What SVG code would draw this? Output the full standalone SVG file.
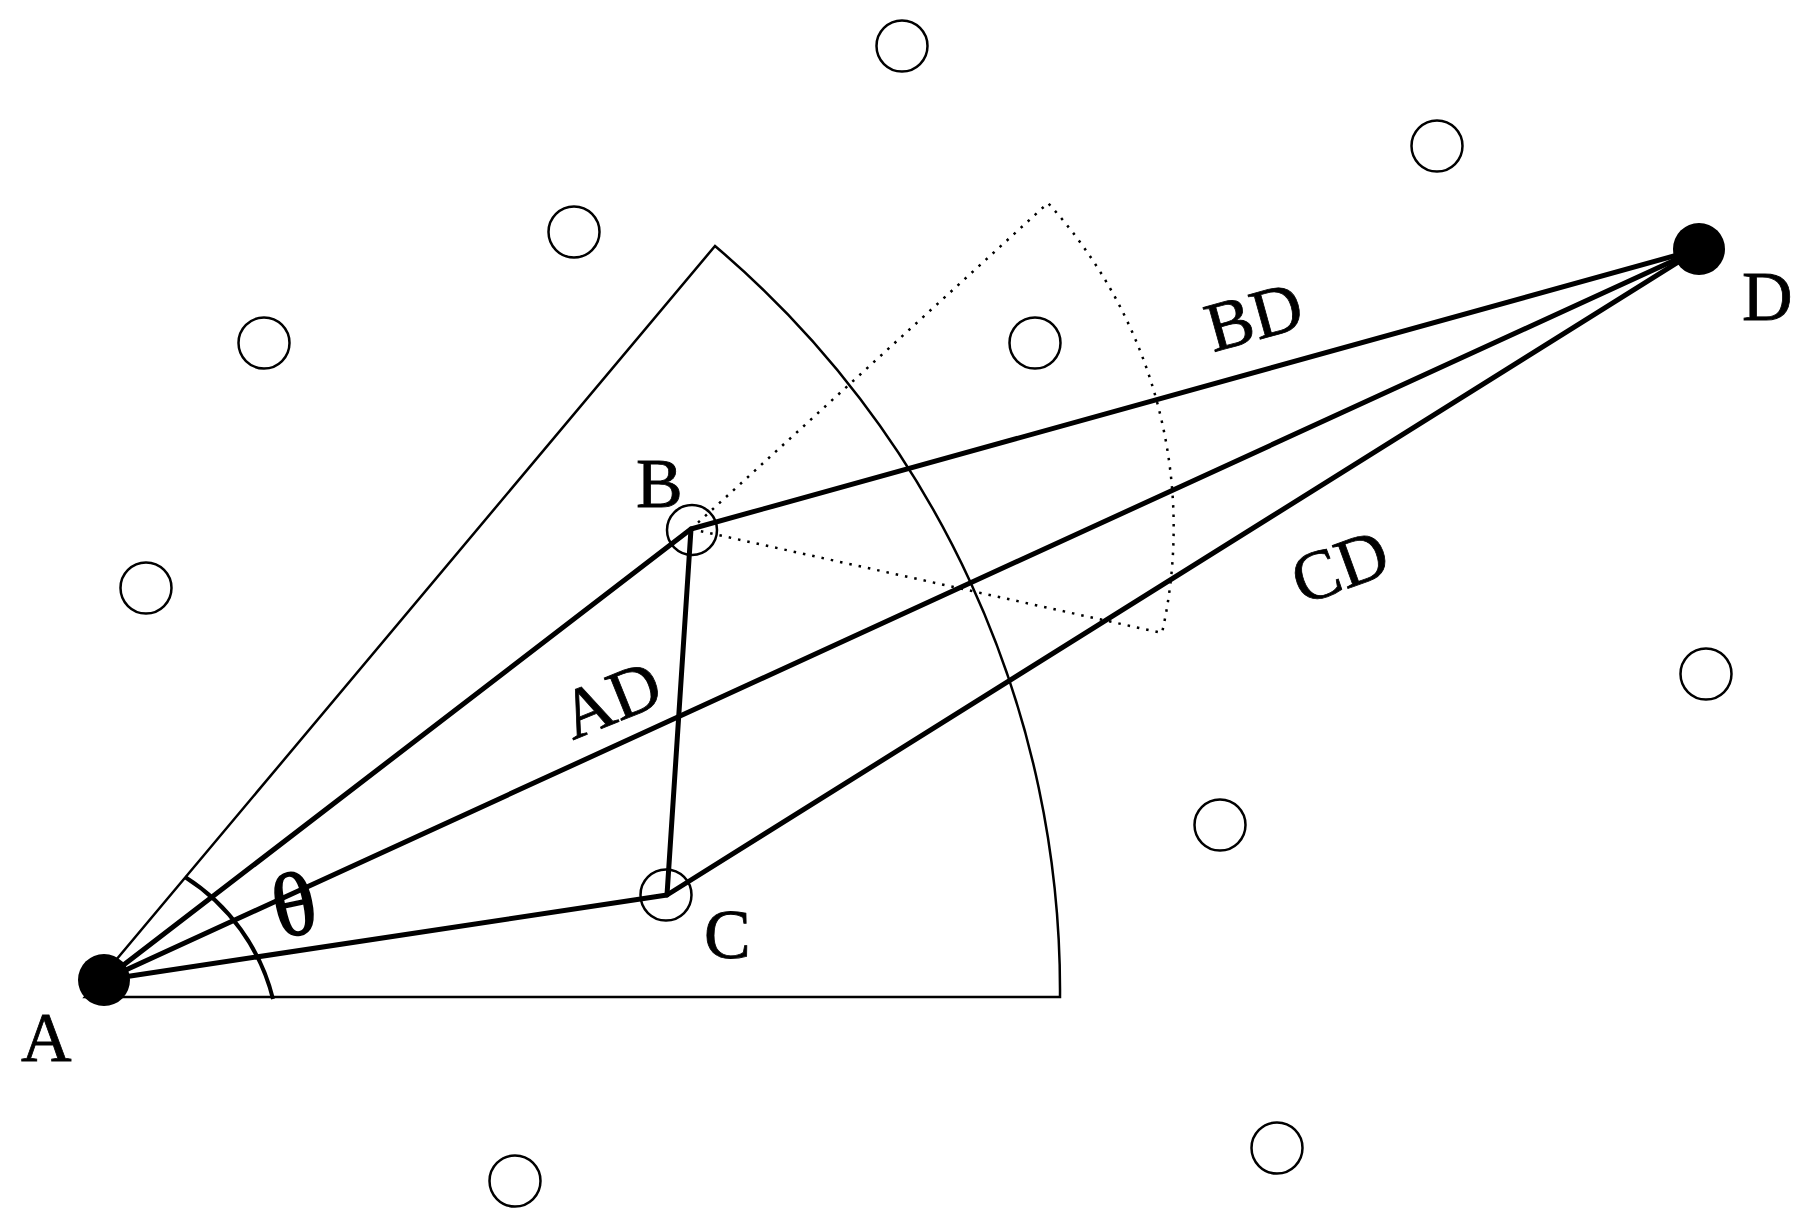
<svg xmlns="http://www.w3.org/2000/svg" width="1806" height="1228" viewBox="0 0 1806 1228">
<style>
.bg{fill:#fff}
.thin{fill:none;stroke:#000;stroke-width:2.5}
.dot{fill:none;stroke:#000;stroke-width:2.5;stroke-dasharray:2.5 7}
.edge{fill:none;stroke:#000;stroke-width:5;stroke-linejoin:round;stroke-linecap:round}
.node{fill:none;stroke:#000;stroke-width:2.5}
.big{fill:#000}
.lbl{font-family:"Liberation Serif","Times New Roman",serif;font-size:70px;fill:#000;stroke:#000;stroke-width:0.8}
</style>
<rect class="bg" x="0" y="0" width="1806" height="1228"/>
<g id="sectors">
<path class="thin" d="M85,997 L1060,997 A976,976 0 0,0 715,246 Z"/>
<path class="dot" d="M691,529 L1048,203 A482,482 0 0,1 1162,633 Z"/>
<path d="M185,877 A202,202 0 0,1 273,999" fill="none" stroke="#000" stroke-width="4"/>
</g>
<g id="connectors">
<path class="edge" d="M104,980 L691,529 L1699,249"/>
<path class="edge" d="M691,529 L667,895"/>
<path class="edge" d="M104,980 L667,895 L1699,249"/>
<path class="edge" d="M104,980 L1699,249"/>
</g>
<g id="node-A"><circle class="big" cx="104" cy="980" r="26"/><text class="lbl" x="21" y="1061">A</text></g>
<g id="node-B"><circle class="node" cx="692" cy="530" r="25"/><text class="lbl" x="636" y="507">B</text></g>
<g id="node-C"><circle class="node" cx="666" cy="895" r="25.5"/><text class="lbl" x="704" y="958">C</text></g>
<g id="node-D"><circle class="big" cx="1699" cy="249" r="26"/><text class="lbl" x="1742" y="320">D</text></g>
<g id="others">
<circle class="node" cx="902" cy="46" r="25.5"/>
<circle class="node" cx="1437" cy="146" r="25.5"/>
<circle class="node" cx="574" cy="232" r="25.5"/>
<circle class="node" cx="264" cy="343" r="25.5"/>
<circle class="node" cx="1035" cy="343" r="25.5"/>
<circle class="node" cx="146" cy="588" r="25.5"/>
<circle class="node" cx="1706" cy="674" r="25.5"/>
<circle class="node" cx="1220" cy="825" r="25.5"/>
<circle class="node" cx="1277" cy="1148" r="25.5"/>
<circle class="node" cx="515" cy="1181" r="25.5"/>
</g>
<g id="labels">
<text class="lbl" text-anchor="middle" transform="translate(1254,317) rotate(-15.5)" x="0" y="23">BD</text>
<text class="lbl" text-anchor="middle" transform="translate(1340,567) rotate(-20)" x="0" y="23">CD</text>
<text class="lbl" text-anchor="middle" transform="translate(611,700) rotate(-22)" x="0" y="23">AD</text>
<text class="lbl" text-anchor="middle" style="font-size:90px;stroke-width:1.5" transform="translate(294,904) rotate(-12)" x="0" y="31">θ</text>
</g>
</svg>
